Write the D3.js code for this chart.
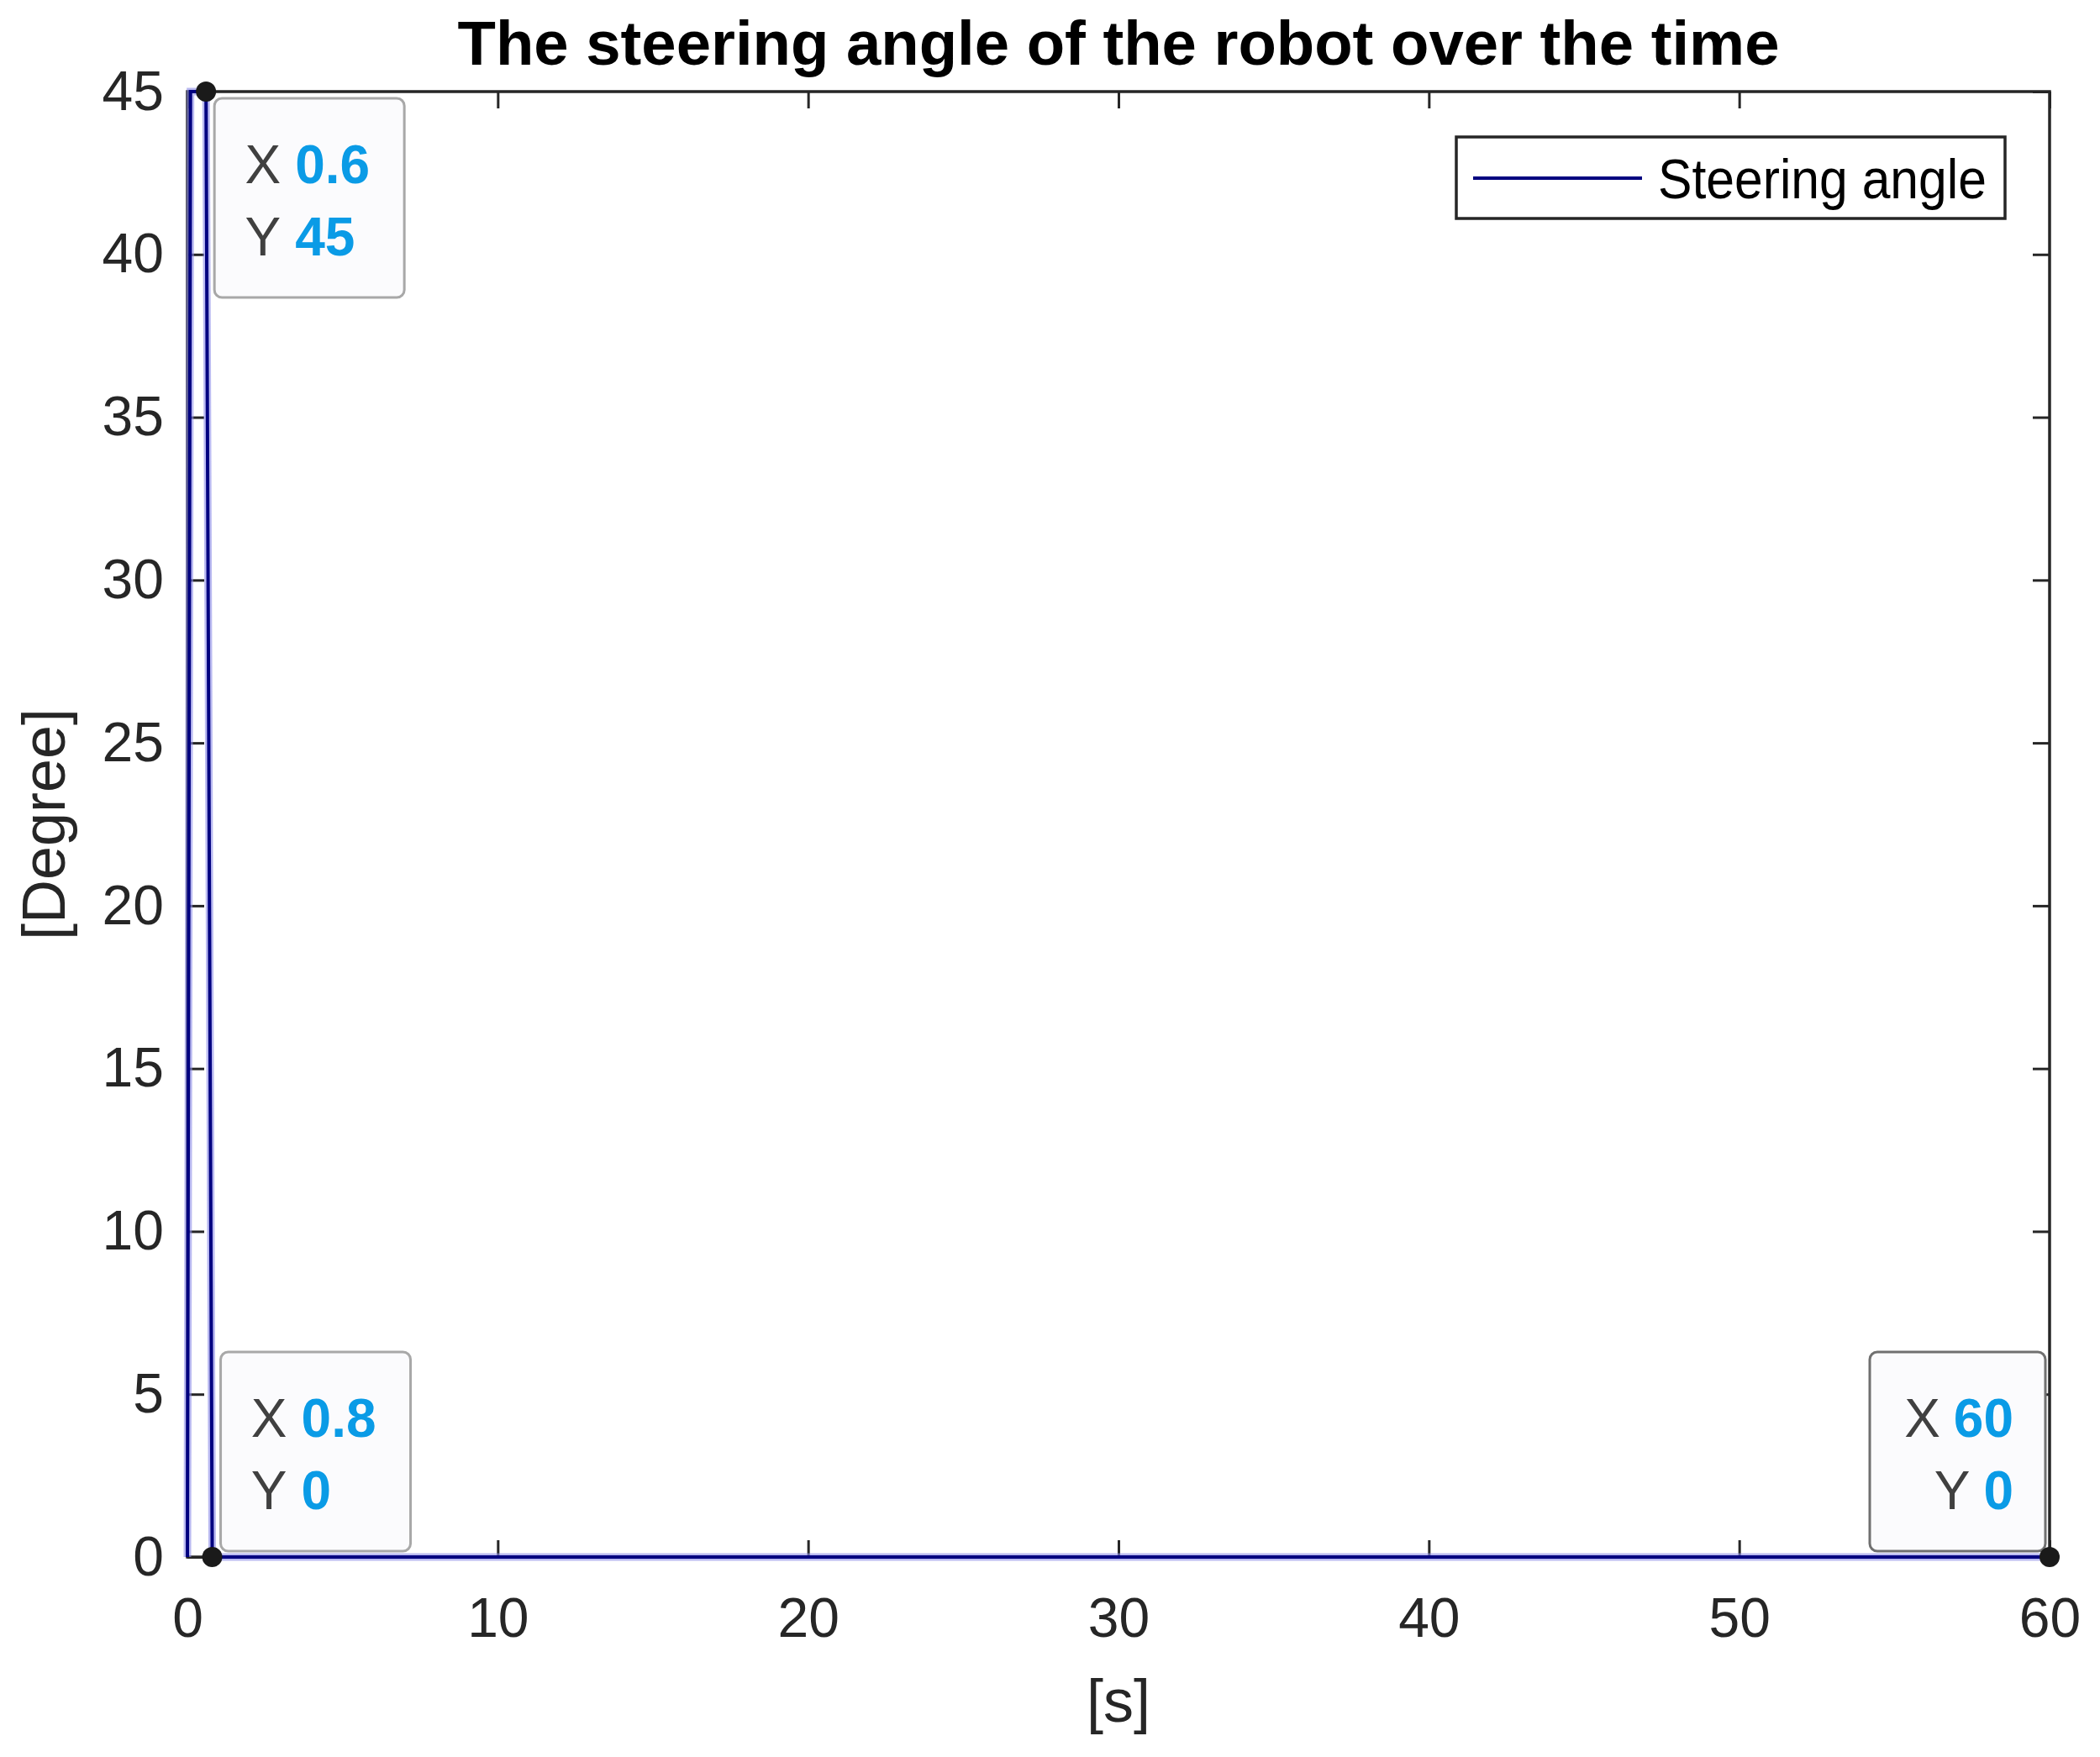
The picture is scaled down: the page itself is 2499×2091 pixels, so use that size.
<!DOCTYPE html>
<html>
<head>
<meta charset="utf-8">
<script src="https://cdn.jsdelivr.net/npm/d3@7"></script>
<style>
  body { margin: 0; background: #fff; }
  text { font-family: "Liberation Sans", Arial, sans-serif; }
</style>
</head>
<body>
<div id="graph"></div>
<script>
// time [s] and steering angle [deg]
var times = [0, 0.1, 0.6, 0.8, 60];
var angles = [0, 45, 45, 0, 0];
var xTicks = [0, 10, 20, 30, 40, 50, 60];
var yTicks = [0, 5, 10, 15, 20, 25, 30, 35, 40, 45];
// data tips: x, y, side
var tipX = [0.6, 0.8, 60];
var tipY = [45, 0, 0];
var tipLabel = ["0.6", "0.8", "60"];
var tipYLabel = ["45", "0", "0"];
var tipSide = ["below-right", "above-right", "above-left"];

var width = 2499;
var height = 2091;
// note: "top" is taken by window.top, so use plot* names
var plotLeft = 223, plotRight = 2439, plotTop = 109, plotBottom = 1853;

var svg = d3.select("#graph").
append("svg").
attr("width", width).
attr("height", height);

var xScale = d3.scaleLinear().
domain([0, 60]).
range([plotLeft, plotRight]);

var yScale = d3.scaleLinear().
domain([0, 45]).
range([plotBottom, plotTop]);

var data = times.map(function (t, i) {return {t: t, a: angles[i]};});

var line = d3.line().
x(function (d) {return xScale(d.t);}).
y(function (d) {return yScale(d.a);});

// inward ticks on all four sides
var tickLen = 20;
svg.append("g").
attr("transform", "translate(0," + plotBottom + ")").
call(d3.axisBottom(xScale).tickValues(xTicks).tickSize(-tickLen).tickPadding(48).tickFormat(d3.format("d"))).
call(function (g) {g.select(".domain").remove();});

svg.append("g").
attr("transform", "translate(0," + plotTop + ")").
call(d3.axisTop(xScale).tickValues(xTicks).tickSize(-tickLen).tickFormat("")).
call(function (g) {g.select(".domain").remove();});

svg.append("g").
attr("transform", "translate(" + plotLeft + ",0)").
call(d3.axisLeft(yScale).tickValues(yTicks).tickSize(-tickLen).tickPadding(28).tickFormat(d3.format("d"))).
call(function (g) {g.select(".domain").remove();});

svg.append("g").
attr("transform", "translate(" + plotRight + ",0)").
call(d3.axisRight(yScale).tickValues(yTicks).tickSize(-tickLen).tickFormat("")).
call(function (g) {g.select(".domain").remove();});

svg.selectAll(".tick line").
attr("stroke", "#262626").
attr("stroke-width", 3);

svg.selectAll(".tick text").
attr("fill", "#262626").
style("font-size", "66px").
style("font-family", "'Liberation Sans', Arial, sans-serif");

// box
svg.append("rect").
attr("x", plotLeft).
attr("y", plotTop).
attr("width", plotRight - plotLeft).
attr("height", plotBottom - plotTop).
attr("fill", "none").
attr("stroke", "#262626").
attr("stroke-width", 3.5);

// line with soft halo
svg.append("path").
datum(data).
attr("d", line).
attr("fill", "none").
attr("stroke", "#8c8ce8").
attr("stroke-width", 9).
attr("opacity", 0.6);

svg.append("path").
datum(data).
attr("d", line).
attr("fill", "none").
attr("stroke", "#000080").
attr("stroke-width", 4);

// title
svg.append("text").
text("The steering angle of the robot over the time").
attr("x", (plotLeft + plotRight) / 2).
attr("y", 77).
attr("textLength", 1573).
attr("lengthAdjust", "spacingAndGlyphs").
style("text-anchor", "middle").
style("font-size", "75px").
style("font-weight", "bold").
attr("fill", "#000");

// axis labels
svg.append("text").
text("[s]").
attr("x", (plotLeft + plotRight) / 2).
attr("y", 2049).
style("text-anchor", "middle").
style("font-size", "72px").
attr("fill", "#262626");

svg.append("text").
text("[Degree]").
attr("transform", "translate(77," + (plotTop + plotBottom) / 2 + ") rotate(-90)").
style("text-anchor", "middle").
style("font-size", "72px").
attr("fill", "#262626");

// legend
var legend = svg.append("g");
legend.append("rect").
attr("x", 1733).
attr("y", 163).
attr("width", 653).
attr("height", 97).
attr("fill", "#fff").
attr("stroke", "#262626").
attr("stroke-width", 3.5);
legend.append("line").
attr("x1", 1753).
attr("x2", 1954).
attr("y1", 212).
attr("y2", 212).
attr("stroke", "#000080").
attr("stroke-width", 4);
legend.append("text").
text("Steering angle").
attr("x", 1973).
attr("y", 236).
attr("textLength", 391).
attr("lengthAdjust", "spacingAndGlyphs").
style("font-size", "66px").
attr("fill", "#000");

// data tips
tipX.forEach(function (tx, i) {
   var px = xScale(tx);
   var py = yScale(tipY[i]);
   var side = tipSide[i];
   var bw = side === "above-left" ? 209 : 226;
   var bh = 237;
   var bx = side === "above-left" ? px - 5 - bw : px + 10;
   var by = side === "below-right" ? py + 8 : py - 7 - bh;
   var g = svg.append("g");

   g.append("rect").
   attr("x", bx).
   attr("y", by).
   attr("width", bw).
   attr("height", bh).
   attr("rx", 9).
   attr("fill", "#fbfbfd").
   attr("stroke", side === "above-left" ? "#707070" : "#a8a8a8").
   attr("stroke-width", 3);

   var rows = [["X", tipLabel[i]], ["Y", tipYLabel[i]]];
   rows.forEach(function (r, k) {
      var cy = by + 78 + k * 86 + 23;
      if (side === "above-left") {
         var v = g.append("text").
         text(r[1]).
         attr("x", bx + bw - 38).
         attr("y", cy).
         style("text-anchor", "end").
         style("font-size", "64px").
         style("font-weight", "bold").
         attr("fill", "#0a9be6");
         var w = v.node().getComputedTextLength();
         g.append("text").
         text(r[0]).
         attr("x", bx + bw - 38 - w - 16).
         attr("y", cy).
         style("text-anchor", "end").
         style("font-size", "64px").
         attr("fill", "#404040");
      } else {
         g.append("text").
         text(r[0]).
         attr("x", bx + 79).
         attr("y", cy).
         style("text-anchor", "end").
         style("font-size", "64px").
         attr("fill", "#404040");
         g.append("text").
         text(r[1]).
         attr("x", bx + 96).
         attr("y", cy).
         style("font-size", "64px").
         style("font-weight", "bold").
         attr("fill", "#0a9be6");
      }
   });

   svg.append("circle").
   attr("cx", px).
   attr("cy", py).
   attr("r", 12).
   attr("fill", "#1a1a1a");
});
</script>
</body>
</html>
